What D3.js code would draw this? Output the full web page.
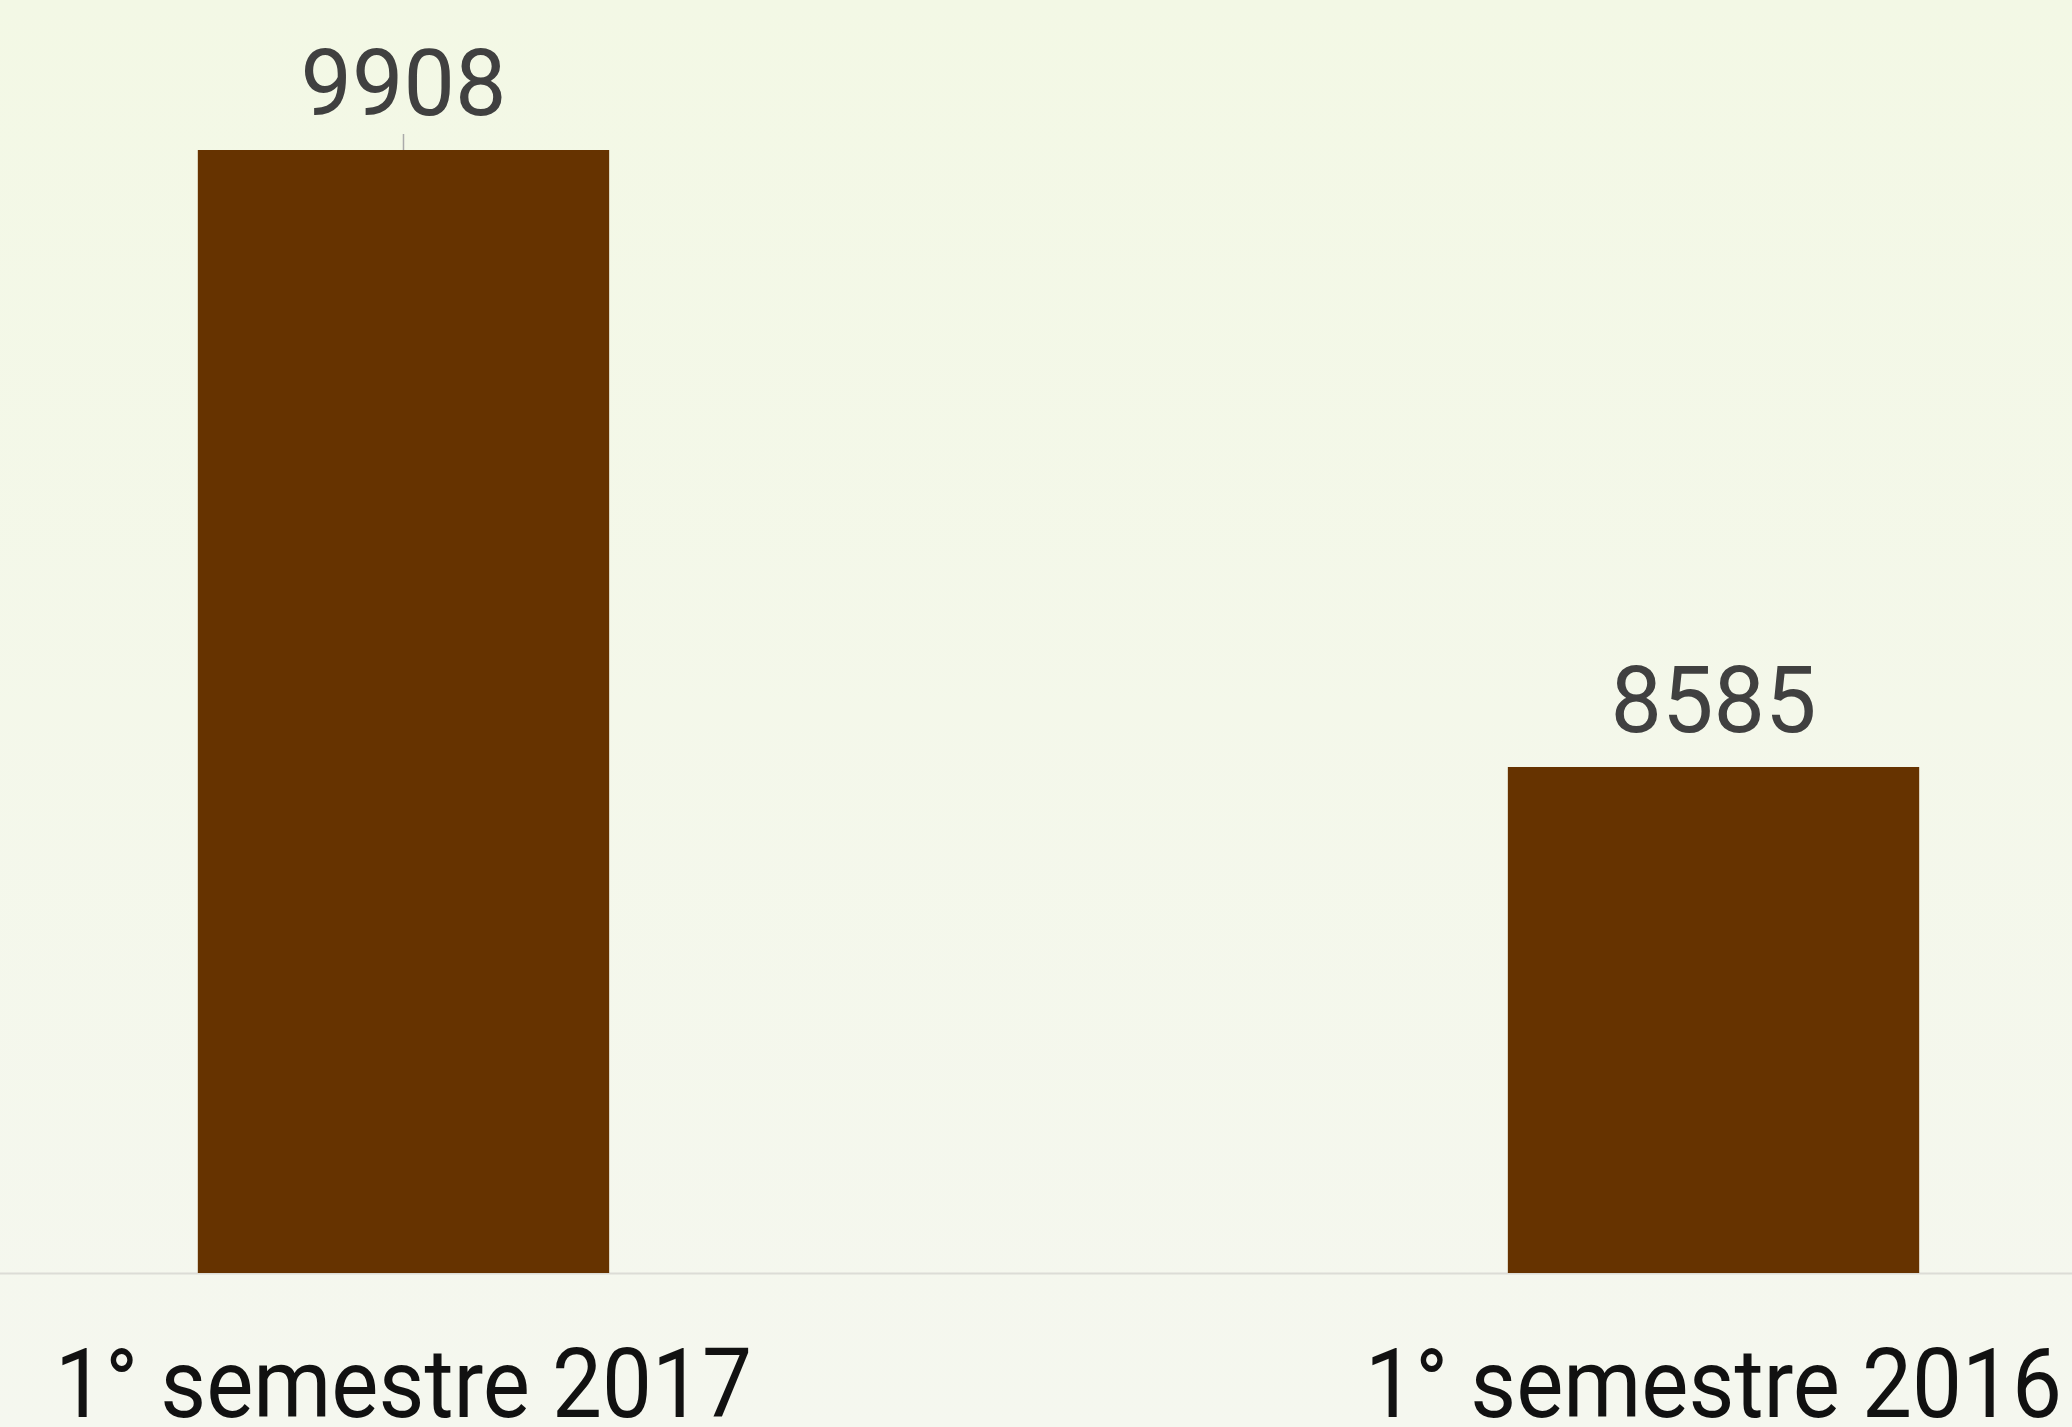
<!DOCTYPE html>
<html>
<head>
<meta charset="utf-8">
<script src="https://cdn.jsdelivr.net/npm/d3@7"></script>
<style>
  html, body { margin: 0; padding: 0; background: #f4f7ea; }
  svg { display: block; }
</style>
</head>
<body>
<div id="chart"></div>
<script>
const categories = ['1° semestre 2017', '1° semestre 2016'];
const values = [9908, 8585];
const yDomain = [7500, 9908];

const width = 2072;
const height = 1427;
const baseY = 1273;
const topY = 150;

const svg = d3.select('#chart').append('svg')
  .attr('width', width)
  .attr('height', height);

const defs = svg.append('defs');
const grad = defs.append('linearGradient')
  .attr('id', 'bg')
  .attr('x1', 0).attr('y1', 0).attr('x2', 0).attr('y2', 1);
grad.append('stop').attr('offset', '0%').attr('stop-color', '#f3f8e5');
grad.append('stop').attr('offset', '100%').attr('stop-color', '#f5f7ef');

svg.append('rect')
  .attr('width', width)
  .attr('height', height)
  .attr('fill', 'url(#bg)');

const x = d3.scaleBand()
  .domain(categories)
  .range([0, 2117])
  .paddingInner(0.686)
  .paddingOuter(0.151);

const y = d3.scaleLinear()
  .domain(yDomain)
  .range([baseY, topY]);

// baseline
svg.append('line')
  .attr('x1', 0)
  .attr('x2', width)
  .attr('y1', baseY + 0.5)
  .attr('y2', baseY + 0.5)
  .attr('stroke', '#dcdcd6')
  .attr('stroke-width', 2);

const bars = svg.selectAll('.bar')
  .data(values)
  .enter().append('g')
  .attr('class', 'bar');

bars.append('rect')
  .attr('x', (d, i) => x(categories[i]))
  .attr('y', d => y(d))
  .attr('width', x.bandwidth())
  .attr('height', d => baseY - y(d))
  .attr('fill', '#663300');

// small marker above the first bar
svg.append('line')
  .attr('x1', x(categories[0]) + x.bandwidth() / 2)
  .attr('x2', x(categories[0]) + x.bandwidth() / 2)
  .attr('y1', y(values[0]) - 16)
  .attr('y2', y(values[0]))
  .attr('stroke', '#aaaaaa')
  .attr('stroke-width', 1.5);

bars.append('text')
  .text(d => d)
  .attr('x', (d, i) => x(categories[i]) + x.bandwidth() / 2)
  .attr('y', d => y(d) - 35)
  .attr('text-anchor', 'middle')
  .attr('textLength', 206)
  .attr('lengthAdjust', 'spacingAndGlyphs')
  .style('font-family', 'Roboto, sans-serif')
  .style('font-size', '93px')
  .style('fill', '#404040');

svg.selectAll('.xlabel')
  .data(categories)
  .enter().append('text')
  .attr('class', 'xlabel')
  .text(d => d)
  .attr('x', d => x(d) + x.bandwidth() / 2)
  .attr('y', 1417)
  .attr('text-anchor', 'middle')
  .attr('textLength', 697)
  .attr('lengthAdjust', 'spacingAndGlyphs')
  .style('font-family', 'Roboto, sans-serif')
  .style('font-size', '96px')
  .style('fill', '#111111');
</script>
</body>
</html>
